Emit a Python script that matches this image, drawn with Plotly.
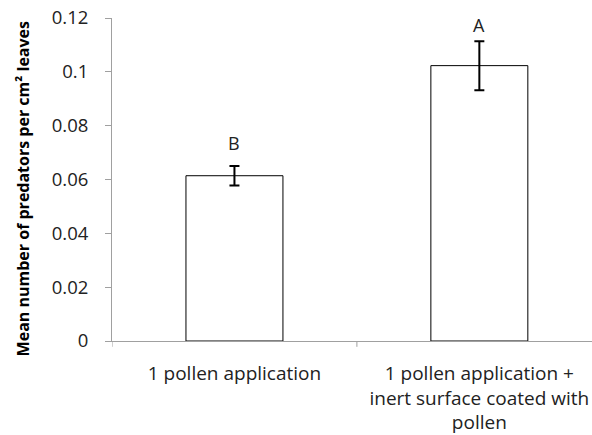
import plotly.graph_objects as go

categories = ["1 pollen application", "1 pollen application +<br>inert surface coated with<br>pollen"]
means = [0.0614, 0.1023]
errors = [0.0036, 0.0091]
letters = ["B", "A"]
letter_y = [0.0736, 0.1174]

fig = go.Figure()
fig.add_trace(go.Bar(
    x=[0, 1], y=means,
    width=0.396,
    marker=dict(color="white", line=dict(color="black", width=1)),
    error_y=dict(type="data", array=errors, visible=True, color="black", thickness=2, width=5),
))
for i, (l, ly) in enumerate(zip(letters, letter_y)):
    fig.add_annotation(x=i, y=ly, text=l, showarrow=False, xref="x", yref="y",
                       font=dict(family="Open Sans", size=18, color="#222"))

fig.add_annotation(xref="paper", yref="paper", x=-0.185, y=0.47, text="Mean number of predators per cm² leaves",
                   textangle=-90, showarrow=False, xanchor="center", yanchor="middle",
                   font=dict(family="Open Sans", size=16, color="black", weight="bold"))

fig.update_layout(
    width=592, height=435,
    margin=dict(l=112, r=0, t=18, b=94),
    paper_bgcolor="white", plot_bgcolor="white",
    showlegend=False,
    font=dict(family="Open Sans", size=18, color="#222"),
    xaxis=dict(range=[-0.5, 1.46], tickmode="array", tickvals=[0, 1], ticktext=categories,
               showline=True, linecolor="#a0a0a0", linewidth=1, showgrid=False, zeroline=False,
               ticks="", tickfont=dict(size=19, color="#222"), ticklabelstandoff=15),
    yaxis=dict(range=[0, 0.12], dtick=0.02, showline=True, linecolor="#a0a0a0", linewidth=1,
               ticks="outside", ticklen=6, tickcolor="#a0a0a0", showgrid=False, zeroline=False,
               tickfont=dict(size=18.5, color="#222"), ticklabelstandoff=13),
)
# category boundary ticks on x axis
fig.add_shape(type="line", xref="x", yref="paper", x0=0.5, x1=0.5, y0=0, y1=-0.018,
              line=dict(color="#a0a0a0", width=1))
fig.add_shape(type="line", xref="x", yref="paper", x0=-0.5, x1=-0.5, y0=0, y1=-0.018,
              line=dict(color="#a0a0a0", width=1))
fig.write_html("out.html")
